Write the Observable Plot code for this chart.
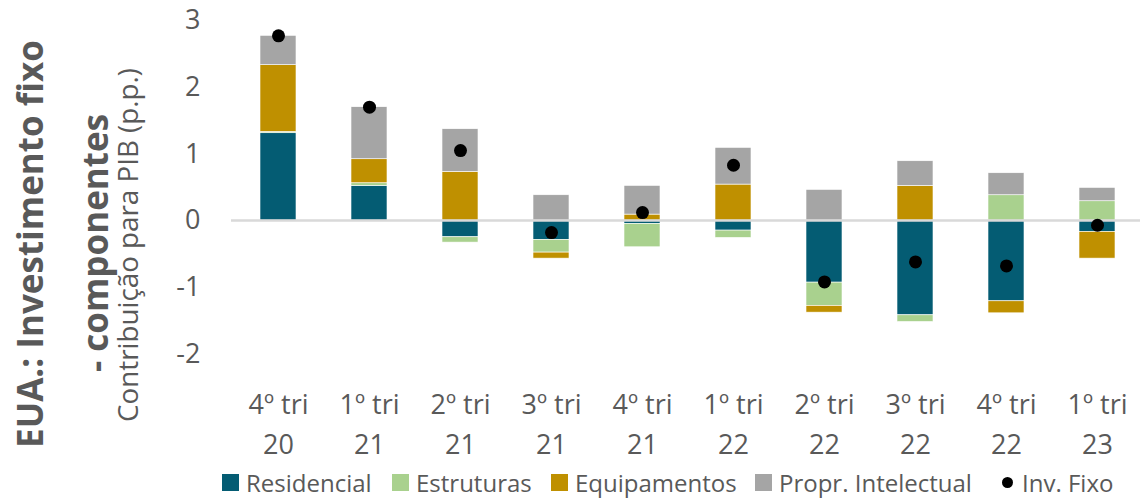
<!DOCTYPE html>
<html>
<head>
<meta charset="utf-8">
<script src="https://cdn.jsdelivr.net/npm/d3@7"></script>
<script src="https://cdn.jsdelivr.net/npm/@observablehq/plot@0.6"></script>
<style>
  html, body { margin: 0; padding: 0; background: white; }
  #wrap { position: relative; width: 1140px; height: 504px; overflow: hidden; font-family: "Open Sans", sans-serif; }
  #legend { position: absolute; left: 0; top: 460px; width: 1140px; height: 44px; }
  .item { position: absolute; top: 0; height: 44px; display: flex; align-items: center; font-size: 24px; color: #595959; white-space: nowrap; }
  .sw { width: 17px; height: 17px; margin-right: 7px; display: inline-block; }
  .dt { width: 11px; height: 11px; border-radius: 50%; background: #000; margin-right: 9px; display: inline-block; }
</style>
</head>
<body>
<div id="wrap">
  <div id="chart"></div>
  <div id="legend"></div>
</div>
<script>
const categories = ["4º tri\n20", "1º tri\n21", "2º tri\n21", "3º tri\n21", "4º tri\n21", "1º tri\n22", "2º tri\n22", "3º tri\n22", "4º tri\n22", "1º tri\n23"];
const seriesNames = ["Residencial", "Estruturas", "Equipamentos", "Propr. Intelectual"];
const residencial     = [1.31, 0.52, -0.25, -0.29, -0.05, -0.15, -0.93, -1.42, -1.21, -0.17];
const estruturas      = [0.02, 0.04, -0.08, -0.19, -0.35, -0.11, -0.35, -0.10, 0.38, 0.29];
const equipamentos    = [1.00, 0.36, 0.73, -0.09, 0.09, 0.54, -0.10, 0.52, -0.18, -0.40];
const proprIntelectual= [0.44, 0.78, 0.64, 0.38, 0.43, 0.55, 0.46, 0.37, 0.33, 0.20];
const invFixo         = [2.77, 1.70, 1.05, -0.18, 0.12, 0.83, -0.92, -0.62, -0.68, -0.07];
const yTicks = [-2, -1, 0, 1, 2, 3];
const colors = ["#045C73", "#A9D18E", "#BF9000", "#A5A5A5"];
const titleLine1 = "EUA.: Investimento fixo";
const titleLine2 = "- componentes";
const subtitle = "Contribuição para PIB (p.p.)";
const dotLabel = "Inv. Fixo";

const seriesValues = [residencial, estruturas, equipamentos, proprIntelectual];
const rows = [];
categories.forEach((c, i) => {
  seriesNames.forEach((s, k) => rows.push({cat: c, series: s, value: seriesValues[k][i]}));
});
const dots = categories.map((c, i) => ({cat: c, value: invFixo[i]}));

const svg = Plot.plot({
  width: 1140,
  height: 460,
  marginTop: 20,
  marginBottom: 106.5,
  marginLeft: 231,
  marginRight: -4,
  style: {fontFamily: "Open Sans", color: "#595959", background: "white", overflow: "visible"},
  x: {domain: categories, paddingInner: 0.6, paddingOuter: 0.3, axis: null},
  y: {domain: [-2, 3], axis: null},
  color: {domain: seriesNames, range: colors},
  marks: [
    Plot.barY(rows, {x: "cat", y: "value", fill: "series", stroke: "white", strokeWidth: 0.6}),
    Plot.ruleY([0], {stroke: "#d9d9d9", strokeWidth: 2.5}),
    Plot.dot(dots, {x: "cat", y: "value", r: 6.5, fill: "black", stroke: "none"}),
    Plot.axisY(yTicks, {label: null, tickSize: 0, tickPadding: 31, fontSize: 27, fill: "#595959", tickFormat: d => String(d)}),
    Plot.axisX({label: null, tickSize: 0, tickPadding: 32, fontSize: 27, fill: "#595959", lineHeight: 1.48})
  ]
});
document.getElementById("chart").appendChild(svg);

const s = d3.select(svg);
const cy = 244;
function addText(x, y, txt, size, bold) {
  return s.append("text").attr("transform", `translate(${x},${y}) rotate(-90)`)
    .attr("text-anchor", "middle").attr("font-size", size).attr("font-weight", bold ? "bold" : "normal")
    .attr("fill", "#595959").attr("font-family", "Open Sans").text(txt);
}
const t1 = addText(43, cy, titleLine1, 32, true);
const t2 = addText(108, cy - 1, titleLine2, 32, true);
const t3 = addText(138, cy + 1, subtitle, 27, false);
// fit sizes to the reference's measured text lengths
const L1 = t1.node().getComputedTextLength();
if (L1 > 0) { const f = 32 * 408 / L1; t1.attr("font-size", f); t2.attr("font-size", f); }
const L3 = t3.node().getComputedTextLength();
if (L3 > 0) { t3.attr("font-size", 27 * 354 / L3); }

// legend
const legend = document.getElementById("legend");
const lefts = [222, 392, 551, 755];
seriesNames.forEach((n, k) => {
  const it = document.createElement("div");
  it.className = "item";
  it.style.left = lefts[k] + "px";
  it.innerHTML = `<span class="sw" style="background:${colors[k]}"></span>${n}`;
  legend.appendChild(it);
});
const it = document.createElement("div");
it.className = "item";
it.style.left = "1002px";
it.innerHTML = `<span class="dt"></span>${dotLabel}`;
legend.appendChild(it);
</script>
</body>
</html>
